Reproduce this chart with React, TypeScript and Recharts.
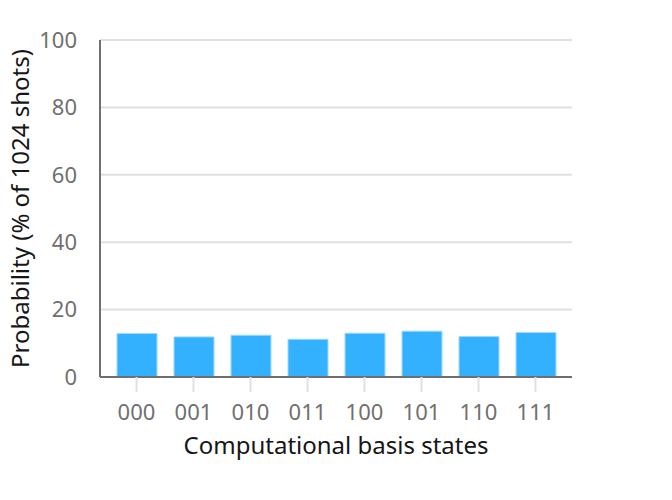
import { BarChart, Bar, XAxis, YAxis, CartesianGrid } from 'recharts';

// basis states and measured probabilities (% of 1024 shots)
const states = ['000', '001', '010', '011', '100', '101', '110', '111'];
const probabilities = [12.9, 11.9, 12.4, 11.2, 13.0, 13.6, 12.0, 13.2];
const yTicks = [0, 20, 40, 60, 80, 100];

const data = states.map((state, i) => ({ state, value: probabilities[i] }));

const font = '"Noto Sans", sans-serif';

export default function App() {
    return (
        <div style={{ position: 'absolute', left: 0, top: 0, width: 672, height: 500, background: '#fff' }}>
            <BarChart
                width={672}
                height={500}
                data={data}
                margin={{ top: 40, right: 100, left: 0, bottom: 0 }}
                barSize={40}
            >
                <CartesianGrid vertical={false} stroke="#e0e0e0" strokeWidth={2} />
                <XAxis
                    dataKey="state"
                    height={123}
                    padding={{ left: 8, right: 8 }}
                    axisLine={{ stroke: '#6f6f6f', strokeWidth: 2 }}
                    tickLine={{ stroke: '#e0e0e0', strokeWidth: 2 }}
                    tickSize={15}
                    tickMargin={12}
                    tick={{ fill: '#6f6f6f', fontSize: 22, fontFamily: font }}
                    label={{
                        content: ({ viewBox }: any) => (
                            <text
                                x={viewBox.x + viewBox.width / 2}
                                y={viewBox.y + 77}
                                textAnchor="middle"
                                fill="#161616"
                                fontSize={24}
                                fontFamily={font}
                            >
                                Computational basis states
                            </text>
                        ),
                    }}
                />
                <YAxis
                    width={100}
                    domain={[0, 100]}
                    ticks={yTicks}
                    axisLine={{ stroke: '#6f6f6f', strokeWidth: 2 }}
                    tickLine={false}
                    tickSize={0}
                    tickMargin={23}
                    tick={{ fill: '#6f6f6f', fontSize: 22, fontFamily: font }}
                    label={{
                        content: ({ viewBox }: any) => {
                            const cx = viewBox.x + 19;
                            const cy = viewBox.y + viewBox.height / 2;
                            return (
                                <text
                                    x={cx}
                                    y={cy}
                                    textAnchor="middle"
                                    dominantBaseline="central"
                                    transform={`rotate(-90, ${cx}, ${cy})`}
                                    fill="#161616"
                                    fontSize={24}
                                    fontFamily={font}
                                >
                                    Probability (% of 1024 shots)
                                </text>
                            );
                        },
                    }}
                />
                <Bar dataKey="value" fill="#33b1ff" stroke="#9fd9ff" strokeWidth={1} isAnimationActive={false} />
            </BarChart>
        </div>
    );
}
